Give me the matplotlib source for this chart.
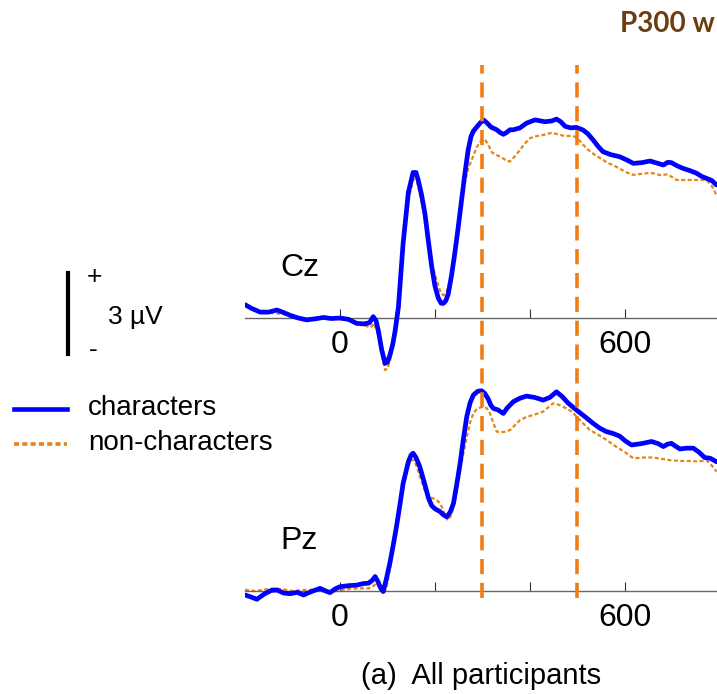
import matplotlib
matplotlib.use("Agg")
import matplotlib.pyplot as plt
from matplotlib.lines import Line2D

plt.rcParams["font.family"] = ["Liberation Sans", "DejaVu Sans"]

# ERP waveforms (ms, µV)
cz_char_t = [-200, -185, -168, -150, -133, -118, -105, -88, -70, -52, -35, -18, 0, 18, 35, 50, 62, 70,
             76, 81, 88, 95, 100, 105, 111, 116, 123, 133, 144, 154, 160, 165, 172, 179, 186, 193, 200,
             207, 213, 218, 223, 228, 235, 242, 249, 256, 263, 270, 276, 281, 288, 295, 302, 310, 318,
             330, 337, 344, 351, 358, 365, 379, 393, 411, 432, 446, 456, 465, 474, 486, 498, 512, 522,
             533, 544, 554, 570, 589, 604, 618, 636, 653, 668, 681, 690, 698, 710, 723, 737, 751, 762,
             772, 783, 793]
cz_char_v = [0.50, 0.35, 0.22, 0.22, 0.30, 0.20, 0.10, 0.00, -0.07, -0.03, 0.02, -0.02, 0.00, -0.05,
             -0.20, -0.22, -0.18, 0.05, -0.10, -0.50, -1.20, -1.70, -1.65, -1.40, -1.00, -0.50, 0.40,
             2.80, 4.70, 5.45, 5.45, 5.15, 4.60, 3.90, 2.90, 1.95, 1.20, 0.75, 0.55, 0.55, 0.65, 0.90,
             1.60, 2.45, 3.40, 4.40, 5.40, 6.30, 6.80, 7.00, 7.15, 7.30, 7.42, 7.30, 7.15, 7.05, 6.95,
             6.88, 6.95, 7.05, 7.05, 7.12, 7.30, 7.42, 7.35, 7.38, 7.45, 7.35, 7.18, 7.12, 7.14, 7.04,
             6.90, 6.67, 6.42, 6.23, 6.12, 6.04, 5.92, 5.79, 5.82, 5.88, 5.80, 5.73, 5.83, 5.82, 5.70,
             5.60, 5.52, 5.42, 5.30, 5.23, 5.15, 4.98]

cz_non_t = [-200, -180, -160, -140, -120, -100, -80, -60, -40, -20, 0, 20, 40, 55, 65, 72, 80, 88, 95,
            100, 106, 112, 118, 125, 135, 145, 155, 162, 170, 178, 186, 192, 198, 204, 212, 218, 224,
            230, 238, 246, 254, 262, 270, 278, 288, 296, 305, 312, 320, 330, 340, 350, 358, 368, 379,
            390, 400, 410, 421, 434, 446, 458, 470, 482, 495, 507, 519, 536, 554, 565, 575, 590, 604,
            618, 635, 650, 660, 675, 690, 709, 740, 772, 783, 793]
cz_non_v = [0.45, 0.30, 0.22, 0.18, 0.15, 0.05, 0.00, -0.05, 0.00, 0.00, -0.05, -0.10, -0.20, -0.30,
            -0.35, -0.20, -0.60, -1.40, -1.95, -1.90, -1.55, -1.00, -0.30, 0.70, 2.90, 4.50, 5.20,
            5.10, 4.50, 3.80, 2.90, 2.05, 1.75, 1.40, 0.95, 0.85, 0.95, 1.30, 2.10, 3.10, 4.10, 5.00,
            5.60, 5.95, 6.40, 6.62, 6.69, 6.50, 6.20, 6.10, 6.02, 5.90, 5.86, 6.05, 6.29, 6.55, 6.73,
            6.80, 6.83, 6.88, 6.94, 6.88, 6.83, 6.82, 6.79, 6.60, 6.35, 6.12, 5.92, 5.80, 5.73, 5.58,
            5.45, 5.36, 5.40, 5.43, 5.42, 5.35, 5.38, 5.17, 5.17, 5.17, 4.95, 4.60]

pz_char_t = [-200, -188, -175, -160, -145, -133, -118, -105, -90, -77, -60, -42, -30, -21, -10, 0, 18,
             35, 50, 60, 68, 74, 80, 86, 91, 97, 105, 112, 119, 126, 133, 144, 150, 154, 160, 168, 177,
             186, 193, 200, 211, 218, 225, 232, 239, 246, 253, 260, 267, 274, 281, 290, 298, 305, 312,
             318, 323, 333, 344, 352, 365, 379, 393, 410, 428, 442, 456, 468, 481, 502, 518, 533, 547,
             561, 575, 589, 601, 614, 635, 656, 670, 681, 690, 698, 707, 716, 730, 744, 756, 768, 780,
             793]
pz_char_v = [-0.15, -0.22, -0.31, -0.12, 0.02, 0.04, -0.08, -0.10, -0.05, -0.15, -0.02, 0.10, 0.00,
             -0.06, 0.08, 0.16, 0.20, 0.22, 0.28, 0.29, 0.40, 0.54, 0.35, 0.10, -0.02, 0.40, 1.04, 1.70,
             2.41, 3.20, 4.03, 4.84, 5.10, 5.16, 5.00, 4.66, 4.10, 3.50, 3.20, 3.08, 2.97, 2.85, 2.78,
             2.95, 3.28, 4.00, 4.78, 5.70, 6.53, 7.05, 7.34, 7.48, 7.50, 7.40, 7.20, 6.95, 6.84, 6.78,
             6.65, 6.85, 7.09, 7.22, 7.30, 7.25, 7.15, 7.25, 7.46, 7.28, 7.03, 6.72, 6.50, 6.28, 6.10,
             5.97, 5.90, 5.80, 5.62, 5.47, 5.52, 5.60, 5.52, 5.41, 5.50, 5.53, 5.42, 5.32, 5.35, 5.35,
             5.20, 5.00, 4.97, 4.84]

pz_non_t = [-200, -180, -160, -140, -120, -100, -80, -60, -40, -20, 0, 20, 40, 60, 70, 77, 84, 91, 98,
            105, 112, 119, 126, 133, 142, 150, 156, 163, 170, 180, 190, 196, 204, 211, 218, 225, 230,
            237, 246, 256, 267, 274, 281, 290, 302, 309, 316, 323, 330, 340, 350, 358, 368, 379, 393,
            407, 428, 440, 449, 460, 477, 490, 498, 512, 526, 544, 561, 582, 600, 618, 640, 660, 677,
            695, 716, 737, 755, 772, 783, 793]
pz_non_v = [0.05, 0.00, 0.05, 0.10, 0.06, 0.00, 0.03, 0.05, 0.00, -0.05, 0.03, 0.08, 0.10, 0.10, 0.18,
            0.30, 0.10, -0.10, 0.10, 0.80, 1.60, 2.40, 3.20, 3.90, 4.60, 4.90, 4.90, 4.60, 4.20, 3.70,
            3.50, 3.47, 3.40, 3.28, 3.00, 2.70, 2.66, 3.00, 3.70, 4.80, 5.78, 6.30, 6.66, 6.85, 6.90,
            6.85, 6.65, 6.30, 5.97, 5.95, 5.97, 6.03, 6.20, 6.40, 6.52, 6.59, 6.72, 6.90, 7.03, 6.98,
            6.84, 6.70, 6.53, 6.28, 6.03, 5.85, 5.66, 5.40, 5.20, 4.97, 5.00, 5.00, 4.95, 4.90, 4.87,
            4.87, 4.85, 4.90, 4.70, 4.47]

window_ms = [300, 500]
xticks = [0, 200, 400, 600]
xticklabels = ["0", "", "", "600"]

W, H = 717, 694
PX_PER_UV = 26.7
XLIM = (-200, 794)
BLUE = "#0000ff"
ORANGE = "#e3861a"
DASH_ORANGE = "#f07d14"

fig = plt.figure(figsize=(W / 100, H / 100), dpi=100)


def px_box(x0, y_top, x1, y_bot):
    return [x0 / W, 1 - y_bot / H, (x1 - x0) / W, (y_bot - y_top) / H]


def make_panel(y_top, y_base, y_bot, name, t1, v1, t2, v2):
    ax = fig.add_axes(px_box(245, y_top, 717, y_bot))
    ax.set_xlim(*XLIM)
    ax.set_ylim((y_base - y_bot) / PX_PER_UV, (y_base - y_top) / PX_PER_UV)
    ax.patch.set_visible(False)
    for side in ["left", "right", "top"]:
        ax.spines[side].set_visible(False)
    ax.spines["bottom"].set_position(("data", 0))
    ax.spines["bottom"].set_color("#666666")
    ax.spines["bottom"].set_linewidth(1.0)
    ax.set_yticks([])
    ax.set_xticks(xticks)
    ax.set_xticklabels(xticklabels, fontsize=23)
    ax.tick_params(axis="x", direction="in", length=6.5, width=0.8, color="#333333", pad=9)
    ax.plot(t2, v2, color=ORANGE, lw=1.6, linestyle=(0, (1.8, 1.1)), zorder=2)
    ax.plot(t1, v1, color=BLUE, lw=3.4, zorder=3, solid_capstyle="round")
    fig.text(280 / W, 1 - (y_base - 50) / H, name, fontsize=23, va="center", ha="left")
    return ax


ax_cz = make_panel(60, 318, 380, "Cz", cz_char_t, cz_char_v, cz_non_t, cz_non_v)
ax_pz = make_panel(380, 591, 640, "Pz", pz_char_t, pz_char_v, pz_non_t, pz_non_v)

# P300 window markers spanning both panels
ax_win = fig.add_axes(px_box(245, 65, 717, 598))
ax_win.set_xlim(*XLIM)
ax_win.axis("off")
for t in window_ms:
    ax_win.axvline(t, color=DASH_ORANGE, lw=2.6, linestyle=(0, (4.2, 2.4)))

# voltage scale bar
fig.add_artist(Line2D([68 / W, 68 / W], [1 - 273 / H, 1 - 354 / H], color="black", lw=3.0))
fig.text(94 / W, 1 - 277 / H, "+", fontsize=19, ha="center", va="center")
fig.text(93 / W, 1 - 350 / H, "-", fontsize=19, ha="center", va="center")
fig.text(108 / W, 1 - 317 / H, "3 µV", fontsize=19, ha="left", va="center")

# legend
fig.add_artist(Line2D([14 / W, 67 / W], [1 - 409 / H] * 2, color=BLUE, lw=3.3))
fig.add_artist(Line2D([14 / W, 67 / W], [1 - 444 / H] * 2, color=ORANGE, lw=2.6,
                      linestyle=(0, (1.4, 0.9))))
fig.text(88 / W, 1 - 408 / H, "characters", fontsize=20, ha="left", va="center")
fig.text(88 / W, 1 - 443 / H, "non-characters", fontsize=20, ha="left", va="center")

# panel header, cut by the figure edge in the source
fig.text(620 / W, 1 - 24 / H, "P300 w", fontsize=20, fontweight="bold", color="#6b3d10",
         family=["Lato", "DejaVu Sans"], ha="left", va="center")
fig.text(481 / W, 1 - 676 / H, "(a)  All participants", fontsize=21, ha="center", va="center")

fig.savefig("out.png", dpi=100)
